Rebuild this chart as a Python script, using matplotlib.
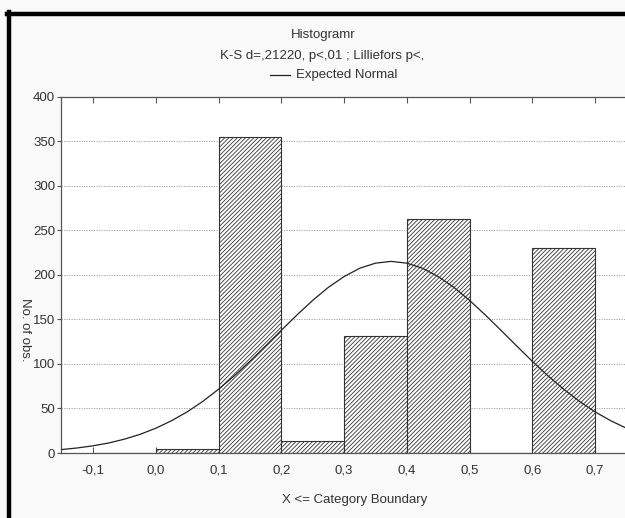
import matplotlib
matplotlib.use('Agg')
import matplotlib.pyplot as plt
from matplotlib.lines import Line2D

plt.rcParams['font.family'] = ['Liberation Sans', 'DejaVu Sans']
plt.rcParams['hatch.linewidth'] = 0.6
plt.rcParams['hatch.color'] = '#222222'

# histogram bins (upper boundaries) and counts
bin_left = [-0.1, 0.0, 0.1, 0.2, 0.3, 0.4, 0.5, 0.6]
counts = [0, 4, 355, 13, 131, 263, 0, 230]

# expected normal curve
curve_x = [-0.15, -0.125, -0.1, -0.075, -0.05, -0.025, 0.0, 0.025, 0.05, 0.075,
           0.1, 0.125, 0.15, 0.175, 0.2, 0.225, 0.25, 0.275, 0.3, 0.325,
           0.35, 0.375, 0.4, 0.425, 0.45, 0.475, 0.5, 0.525, 0.55, 0.575,
           0.6, 0.625, 0.65, 0.675, 0.7, 0.725, 0.75]
curve_y = [3.9, 5.7, 8.1, 11.3, 15.6, 21.0, 27.9, 36.3, 46.3, 58.1,
           71.7, 86.7, 103, 120.3, 137.8, 155, 171.3, 185.9, 198, 207.3,
           213, 215, 213, 207.3, 198, 185.9, 171.3, 155, 137.8, 120.3,
           103, 86.7, 71.7, 58.1, 46.3, 36.3, 27.9]

xticks = [-0.1, 0.0, 0.1, 0.2, 0.3, 0.4, 0.5, 0.6, 0.7]
xticklabels = ['-0,1', '0,0', '0,1', '0,2', '0,3', '0,4', '0,5', '0,6', '0,7']
yticks = [0, 50, 100, 150, 200, 250, 300, 350, 400]

W, H = 625, 518
fs = 9.5
fig = plt.figure(figsize=(W / 100, H / 100), dpi=100, facecolor='#f9f9f9')
ax = fig.add_axes([60.7 / W, 1 - 453 / H, (W - 60.7) / W, (453 - 96.5) / H])
ax.set_facecolor('white')

ax.bar(bin_left, counts, width=0.1, align='edge', facecolor='white',
       edgecolor='#333333', linewidth=0.8, hatch='////////', zorder=2)
ax.plot(curve_x, curve_y, color='#222222', linewidth=0.9, zorder=3)

ax.set_xlim(-0.152, 0.748)
ax.set_ylim(0, 400)
ax.set_xticks(xticks)
ax.set_xticklabels(xticklabels)
ax.set_yticks(yticks)
for v in yticks[1:-1]:
    ax.axhline(v, color='#999999', linewidth=0.6, linestyle=(0, (1.5, 1.5)), zorder=1)

ax.tick_params(axis='x', direction='in', top=True, length=4, width=0.8,
               colors='#555555', labelcolor='#333333', labelsize=fs, pad=8)
ax.tick_params(axis='y', direction='out', length=3, width=0.8,
               colors='#555555', labelcolor='#333333', labelsize=fs, pad=1)
for s in ['left', 'bottom', 'top']:
    ax.spines[s].set_color('#555555')
    ax.spines[s].set_linewidth(0.9)
ax.spines['right'].set_visible(False)

tc = '#333333'
fig.text(323 / W, 1 - 35 / H, 'Histogramr', ha='center', va='center', fontsize=fs, color=tc)
fig.text(322 / W, 1 - 56 / H, 'K-S d=,21220, p<,01 ; Lilliefors p<,', ha='center', va='center',
         fontsize=fs, color=tc)
fig.text(296 / W, 1 - 75 / H, 'Expected Normal', ha='left', va='center', fontsize=fs, color=tc)
fig.add_artist(Line2D([270 / W, 290 / W], [1 - 75 / H, 1 - 75 / H], color='#222222', linewidth=0.9))
fig.text(355 / W, 1 - 500 / H, 'X <= Category Boundary', ha='center', va='center', fontsize=fs, color=tc)
fig.text(25 / W, 1 - 330 / H, 'No. of obs.', ha='center', va='center', rotation=-90,
         fontsize=fs, color=tc)

# black frame lines on top and left
fig.add_artist(Line2D([7 / W, 1.0], [1 - 14 / H, 1 - 14 / H], color='black', linewidth=3.2))
fig.add_artist(Line2D([9 / W, 9 / W], [0, 1 - 12 / H], color='black', linewidth=3.2))

fig.savefig('out.png', dpi=100, facecolor=fig.get_facecolor())
